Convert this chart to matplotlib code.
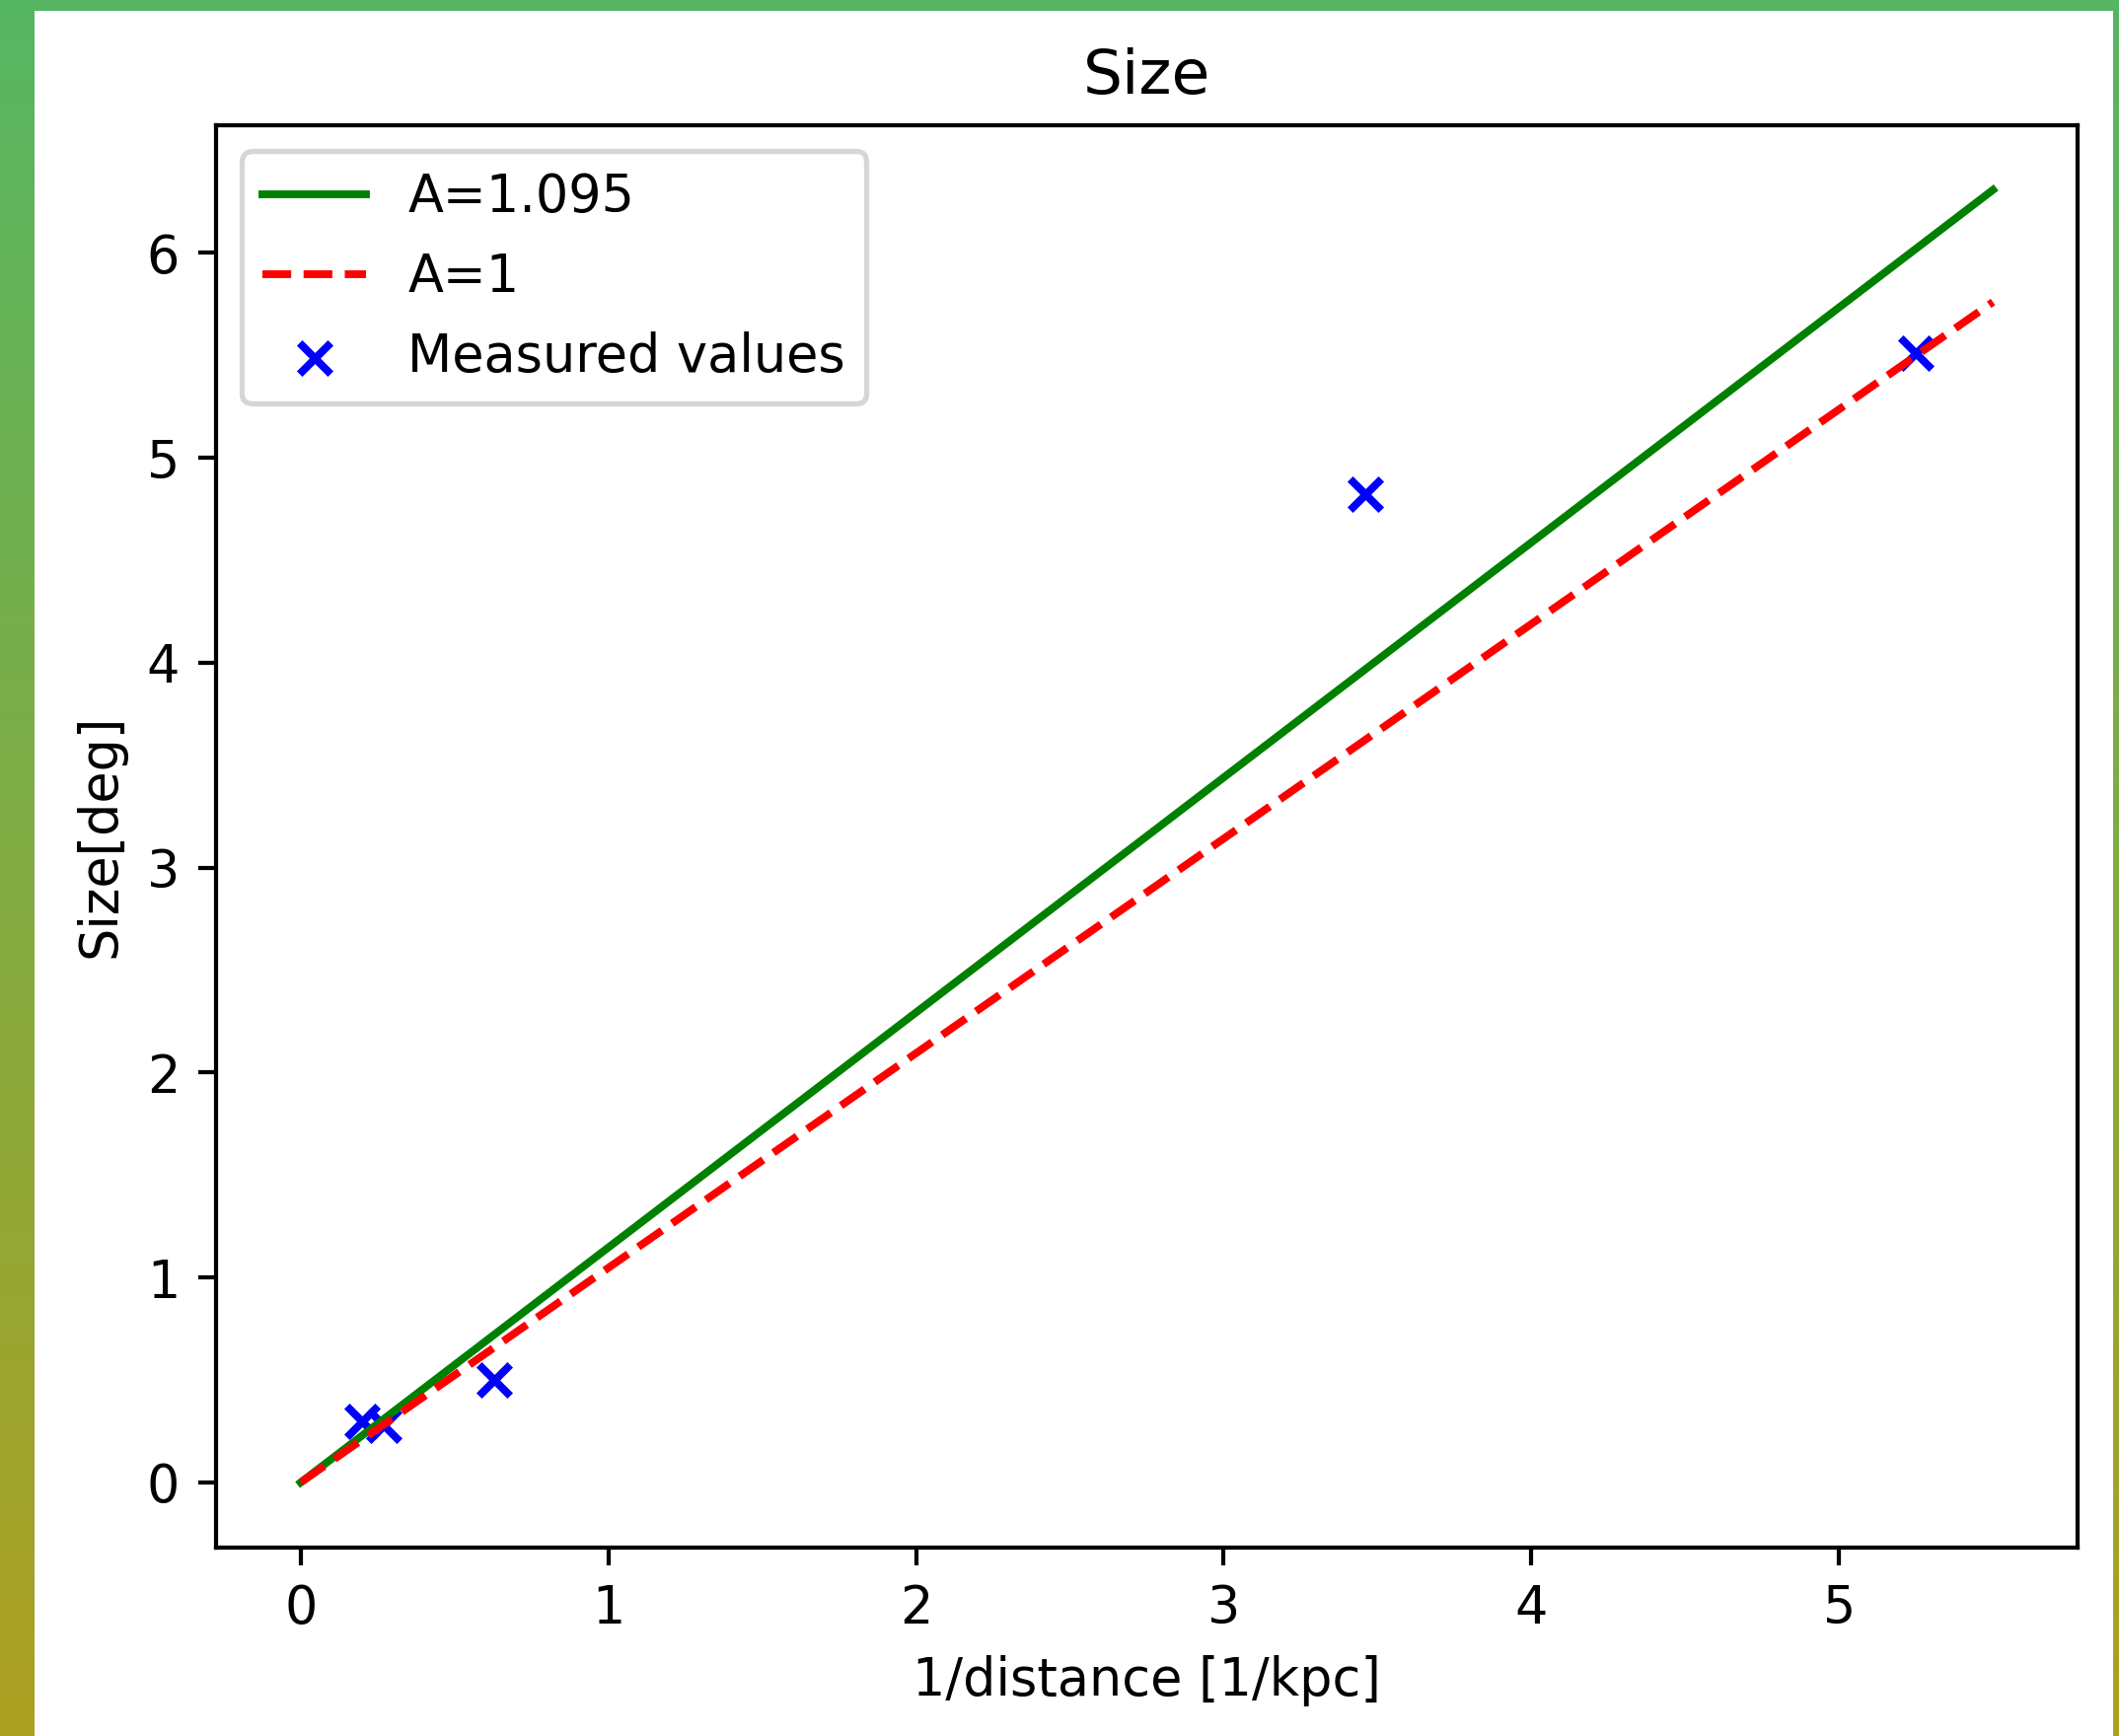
"""Angular size vs inverse distance, with two model lines."""

import matplotlib

matplotlib.use("Agg")
import matplotlib.pyplot as plt
import numpy as np
from matplotlib.colors import LinearSegmentedColormap
from matplotlib.patches import Rectangle

# Model lines (endpoints)
line_x = [0.0, 5.5]
fit_y = [0.0, 6.307]      # A=1.095
unit_y = [0.0, 5.760]     # A=1

# Measured values
inv_dist = [0.20, 0.27, 0.63, 3.46, 5.25]
size_deg = [0.30, 0.28, 0.50, 4.82, 5.51]

DPI = 378
W, H = 2148, 1760
fig = plt.figure(figsize=(W / DPI, H / DPI), dpi=DPI)

# Gradient backdrop with a white card on top
bg = fig.add_axes([0, 0, 1, 1], zorder=-10)
grad_cmap = LinearSegmentedColormap.from_list("bg", ["#56b663", "#ada021"])
bg.imshow(
    np.linspace(0, 1, 256).reshape(-1, 1),
    aspect="auto",
    cmap=grad_cmap,
    extent=[0, 1, 0, 1],
)
bg.add_patch(
    Rectangle((35 / W, 0), (2142 - 35) / W, 1 - 11 / H,
              facecolor="white", edgecolor="none", transform=bg.transAxes)
)
bg.set_xlim(0, 1)
bg.set_ylim(0, 1)
bg.axis("off")

ax = fig.add_axes([219 / W, 1 - 1568.5 / H, (2106 - 219) / W, (1568.5 - 127) / H])

ax.plot(line_x, fit_y, color="green", label="A=1.095")
ax.plot(line_x, unit_y, "r--", label="A=1")
ax.scatter(inv_dist, size_deg, marker="x", color="blue", label="Measured values")

ax.set_title("Size")
ax.set_xlabel("1/distance [1/kpc]")
ax.set_ylabel("Size[deg]")
ax.legend(loc="upper left", labelspacing=0.55, handletextpad=0.8)

fig.savefig("out.png", dpi=DPI)
